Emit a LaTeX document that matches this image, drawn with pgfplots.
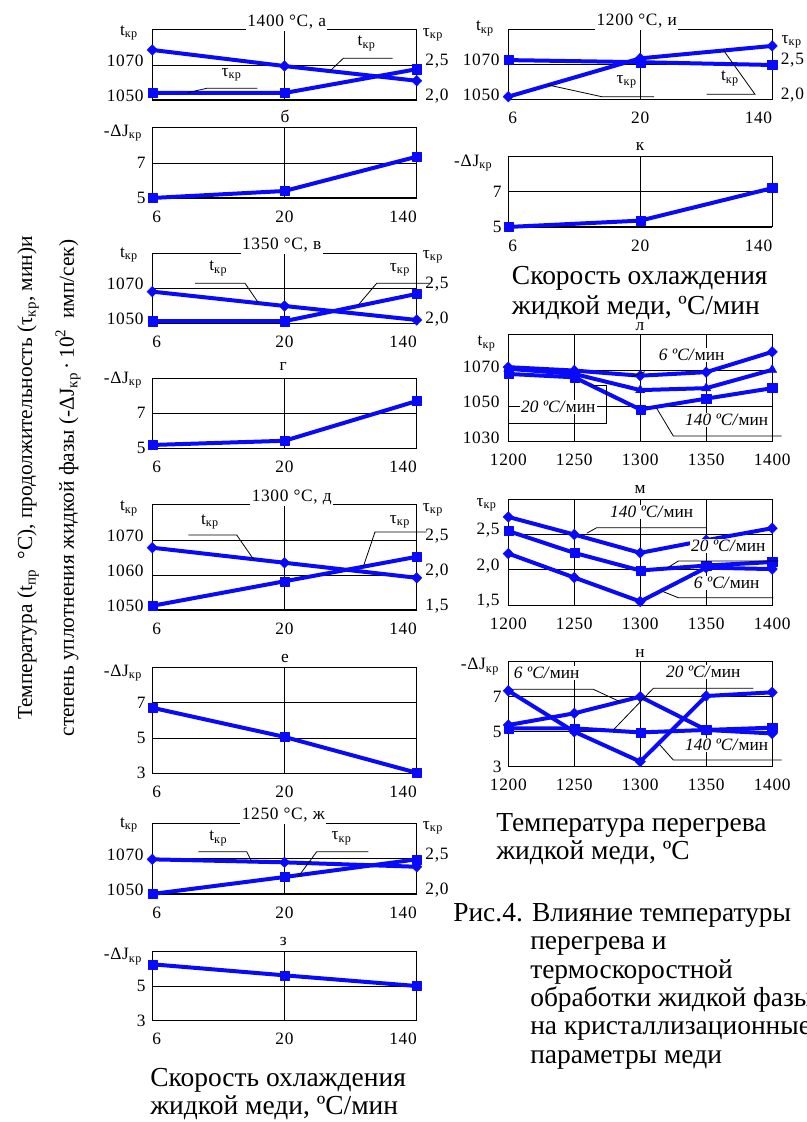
\documentclass[border=0pt]{standalone}
\usepackage{fontspec}
\setmainfont{Liberation Serif}
\newfontfamily\tf[LetterSpace=4]{Liberation Serif}
\usepackage{pgfplots}
\pgfplotsset{compat=1.18}
\definecolor{myblue}{RGB}{10,10,250}
\newcommand\kr{\textsubscript{кр}}
\newcommand\T{\fontsize{13}{14}\tf}
\newcommand\B{\fontsize{20.6}{21}\selectfont}
\newcommand\ital{\fontsize{13}{14}\selectfont}

\pgfplotsset{
 panel/.style={scale only axis, anchor=north west, clip=false,
   axis line style={black,line width=0.75pt},
   major tick length=0pt, tick style={draw=none},
   grid style={black,line width=0.6pt},
   xmajorgrids, ymajorgrids,
   tick label style={font=\T},
   xticklabel style={yshift=-6pt},
 },
 lt/.style={yticklabel style={xshift=-3pt,yshift=3pt}},
 lj/.style={yticklabel style={xshift=-1.5pt}},
 colL/.style={panel, width=198.3pt},
 colR/.style={panel, width=197.9pt},
 cat/.style={xmin=0,xmax=2,xtick={0,1,2},xticklabels={\rlap{6},20,\llap{140}}},
 catn/.style={xmin=0,xmax=2,xtick={0,1,2},xticklabels={}},
 tem/.style={xmin=1200,xmax=1400,xtick={1200,1250,1300,1350,1400},xticklabels={1200,1250,1300,1350,1400}},
 tauax/.style={axis line style={draw=none}, grid=none, yticklabel pos=right, yticklabel style={xshift=3pt,yshift=3pt}},
 bline/.style={myblue, line width=3pt, line join=round},
 dmark/.style={bline, mark=diamond*, mark size=4pt, mark options={solid,line width=0.3pt,xscale=1.3}},
 smark/.style={bline, mark=square*, mark size=3.4pt, mark options={solid,line width=0.3pt}},
 tmark/.style={bline, mark=triangle*, mark size=4pt, mark options={solid,line width=0.3pt}},
}

\begin{document}
\begin{tikzpicture}[x=0.75pt,y=0.75pt]
\path[use as bounding box] (0,0) rectangle (807,1122);

% ---------- a: 1400
\begin{axis}[colL,catn,lt,at={({152.3*0.75pt},{1092*0.75pt})},height=52.5pt,ymin=1050,ymax=1090,ytick={1050,1070},yticklabels={1050,1070}]
\addplot[dmark] coordinates {(0,1078.6)(1,1069.4)(2,1061.0)};
\end{axis}
\begin{axis}[colL,catn,tauax,at={({152.3*0.75pt},{1092*0.75pt})},height=52.5pt,ymin=2,ymax=3,ytick={2,2.5},yticklabels={{2,0},{2,5}}]
\addplot[smark] coordinates {(0,2.10)(1,2.10)(2,2.44)};
\end{axis}
% ---------- b
\begin{axis}[colL,cat,lj,at={({152.3*0.75pt},{994*0.75pt})},height=52.5pt,ymin=5,ymax=9,ytick={5,7},yticklabels={5,7}]
\addplot[smark] coordinates {(0,5.0)(1,5.4)(2,7.36)};
\end{axis}
% ---------- v: 1350
\begin{axis}[colL,cat,lt,at={({152.3*0.75pt},{868.7*0.75pt})},height=52.5pt,ymin=1050,ymax=1090,ytick={1050,1070},yticklabels={1050,1070}]
\addplot[dmark] coordinates {(0,1068.1)(1,1059.9)(2,1051.9)};
\end{axis}
\begin{axis}[colL,catn,tauax,at={({152.3*0.75pt},{868.7*0.75pt})},height=52.5pt,ymin=2,ymax=3,ytick={2,2.5},yticklabels={{2,0},{2,5}}]
\addplot[smark] coordinates {(0,2.03)(1,2.03)(2,2.42)};
\end{axis}
% ---------- g
\begin{axis}[colL,cat,lj,at={({152.3*0.75pt},{743.7*0.75pt})},height=52.5pt,ymin=5,ymax=9,ytick={5,7},yticklabels={5,7}]
\addplot[smark] coordinates {(0,5.19)(1,5.43)(2,7.70)};
\end{axis}
% ---------- d: 1300
\begin{axis}[colL,cat,lt,at={({152.3*0.75pt},{617*0.75pt})},height=78.75pt,ymin=1050,ymax=1080,ytick={1050,1060,1070},yticklabels={1050,1060,1070}]
\addplot[dmark] coordinates {(0,1067.8)(1,1063.5)(2,1059.2)};
\end{axis}
\begin{axis}[colL,catn,tauax,at={({152.3*0.75pt},{617*0.75pt})},height=78.75pt,ymin=1.5,ymax=3,ytick={1.5,2,2.5},yticklabels={{1,5},{2,0},{2,5}}]
\addplot[smark] coordinates {(0,1.56)(1,1.91)(2,2.26)};
\end{axis}
% ---------- e
\begin{axis}[colL,cat,lj,at={({152.3*0.75pt},{454.7*0.75pt})},height=79.5pt,ymin=3,ymax=9,ytick={3,5,7},yticklabels={3,5,7}]
\addplot[smark] coordinates {(0,6.71)(1,5.06)(2,3.03)};
\end{axis}
% ---------- zh: 1250
\begin{axis}[colL,cat,lt,at={({152.3*0.75pt},{298.7*0.75pt})},height=53pt,ymin=1050,ymax=1090,ytick={1050,1070},yticklabels={1050,1070}]
\addplot[dmark] coordinates {(0,1069.6)(1,1067.9)(2,1065.4)};
\end{axis}
\begin{axis}[colL,catn,tauax,at={({152.3*0.75pt},{298.7*0.75pt})},height=53pt,ymin=2,ymax=3,ytick={2,2.5},yticklabels={{2,0},{2,5}}]
\addplot[smark] coordinates {(0,2.0)(1,2.24)(2,2.49)};
\end{axis}
% ---------- z
\begin{axis}[colL,cat,lj,at={({152.3*0.75pt},{170.3*0.75pt})},height=51.75pt,ymin=3,ymax=7,ytick={3,5},yticklabels={3,5}]
\addplot[smark] coordinates {(0,6.27)(1,5.63)(2,5.01)};
\end{axis}

% ---------- i: 1200
\begin{axis}[colR,cat,lt,at={({508.3*0.75pt},{1092.7*0.75pt})},height=52.5pt,ymin=1050,ymax=1090,ytick={1050,1070},yticklabels={1050,1070}]
\addplot[dmark] coordinates {(0,1051.5)(1,1073.4)(2,1080.5)};
\end{axis}
\begin{axis}[colR,catn,tauax,at={({508.3*0.75pt},{1092.7*0.75pt})},height=52.5pt,ymin=2,ymax=3,ytick={2,2.5},yticklabels={{2,0},{2,5}}]
\addplot[smark] coordinates {(0,2.56)(1,2.53)(2,2.49)};
\end{axis}
% ---------- k
\begin{axis}[colR,cat,lj,at={({508.3*0.75pt},{965.3*0.75pt})},height=52.7pt,ymin=5,ymax=9,ytick={5,7},yticklabels={5,7}]
\addplot[smark] coordinates {(0,5.0)(1,5.36)(2,7.21)};
\end{axis}
% ---------- l
\begin{axis}[colR,tem,lt,at={({508.3*0.75pt},{787*0.75pt})},height=80pt,ymin=1030,ymax=1090,ytick={1030,1050,1070},yticklabels={1030,1050,1070}]
\addplot[dmark] coordinates {(1200,1071.9)(1250,1070)(1300,1067.1)(1350,1069.1)(1400,1080.5)};
\addplot[tmark] coordinates {(1200,1071)(1250,1068.1)(1300,1059)(1350,1060.1)(1400,1070.4)};
\addplot[smark] coordinates {(1200,1068.1)(1250,1066.2)(1300,1048.1)(1350,1054.2)(1400,1060.1)};
\end{axis}
% ---------- m
\begin{axis}[colR,tem,lt,at={({508.3*0.75pt},{622.7*0.75pt})},height=79.3pt,ymin=1.5,ymax=3,ytick={1.5,2,2.5},yticklabels={{1,5},{2,0},{2,5}}]
\addplot[dmark] coordinates {(1200,2.75)(1250,2.5)(1300,2.24)(1350,2.42)(1400,2.59)};
\addplot[smark] coordinates {(1200,2.55)(1250,2.24)(1300,1.99)(1350,2.06)(1400,2.11)};
\addplot[dmark] coordinates {(1200,2.23)(1250,1.89)(1300,1.55)(1350,2.03)(1400,2.01)};
\end{axis}
% ---------- n
\begin{axis}[colR,tem,lj,at={({508.3*0.75pt},{460.3*0.75pt})},height=78.75pt,ymin=3,ymax=9,ytick={3,5,7},yticklabels={3,5,7}]
\addplot[dmark] coordinates {(1200,7.34)(1250,5.0)(1300,3.29)(1350,7.04)(1400,7.25)};
\addplot[dmark] coordinates {(1200,5.38)(1250,6.05)(1300,7.0)(1350,5.1)(1400,4.9)};
\addplot[smark] coordinates {(1200,5.19)(1250,5.19)(1300,4.96)(1350,5.1)(1400,5.23)};
\end{axis}

% ---------- labels and annotations
\begin{scope}[every node/.style={font=\T, inner sep=1pt}]
\node at (129,1089) {t\kr};
\node at (433,1087) {τ\kr};
\node at (123,989) {-ΔJ\kr};
\node at (129,867) {t\kr};
\node at (433,865.3) {τ\kr};
\node at (123,742) {-ΔJ\kr};
\node at (129,613.7) {t\kr};
\node at (433,612) {τ\kr};
\node at (123,448.7) {-ΔJ\kr};
\node at (129,297) {t\kr};
\node at (433,294) {τ\kr};
\node at (123,165.3) {-ΔJ\kr};
\node at (485,1093.7) {t\kr};
\node at (791.7,1080.3) {τ\kr};
\node at (473.3,958.7) {-ΔJ\kr};
\node at (486.7,778.7) {t\kr};
\node at (486.7,617) {τ\kr};
\node at (480,455.3) {-ΔJ\kr};
% titles
\node[fill=white,anchor=south,text depth=0.25em] at (286.7,1091) {1400 °C, а};
\node[fill=white,anchor=south,text depth=0.25em] at (281.7,867.7) {1350 °C, в};
\node[fill=white,anchor=south,text depth=0.25em] at (291.7,616) {1300 °C, д};
\node[fill=white,anchor=south,text depth=0.25em] at (283.3,297.7) {1250 °C, ж};
\node[fill=white,anchor=south,text depth=0.25em] at (636.7,1091.7) {1200 °C, и};
\node at (285,1005.3) {б};
\node at (283.3,755.3) {г};
\node at (285,463.7) {е};
\node at (283.3,180.3) {з};
\node at (640,975.3) {к};
\node at (640,795.3) {л};
\node at (640,632) {м};
\node[fill=white] at (640,468.7) {н};
\end{scope}

\begin{scope}[line width=0.6pt, every node/.style={font=\T, inner sep=1pt}]
% a
\draw (187.7,1029.3)--(206.7,1033.7)--(257.3,1033.7);
\node at (231.7,1047) {τ\kr};
\draw (330,1051)--(343.3,1063.7)--(392.7,1063.7);
\node at (366.7,1078.7) {t\kr};
% v
\draw (195,838.7)--(245,838.7)--(258.3,819.3);
\node at (218.3,853.7) {t\kr};
\draw (358.3,817)--(376.7,838.7)--(430,838.7);
\node at (400,852) {τ\kr};
% d
\draw (188.3,587)--(236.7,587)--(254,562);
\node at (210,600.3) {t\kr};
\draw (363.3,555.3)--(375,590)--(426.7,590);
\node at (400,600.3) {τ\kr};
% zh
\draw (198.3,270.3)--(246.7,270.3)--(251.7,260.3);
\node at (218.3,283.7) {t\kr};
\draw (298.3,245.3)--(316.7,270.3)--(368.3,270.3);
\node at (341.7,283.7) {τ\kr};
% i
\draw (548.3,1037)--(601.7,1025.3)--(654,1025.3);
\node at (626.7,1040.3) {τ\kr};
\draw (723.3,1072)--(755,1027.7)--(706.7,1027.7);
\node at (730,1043.7) {t\kr};
\end{scope}

\begin{scope}[line width=0.6pt, every node/.style={font=\ital, inner sep=1pt, fill=white}]
% l
\draw (631.7,745.3)--(645,750.3);
\node at (691.7,767) {\textit{6 ºC/}мин};
\draw (508.3,698.7)--(606.7,698.7)--(606.7,737)--(593,737);
\node at (558.3,714.7) {\textit{20 ºC/}мин};
\draw (656.7,713.7)--(673.3,686)--(781.7,686);
\node at (726.7,702) {\textit{140 ºC/}мин};
% m
\draw (586.7,588.7)--(596.7,594.3)--(706,594.3);
\node at (651.7,610.3) {\textit{140 ºC/}мин};
\draw (666.7,553.7)--(678.3,561)--(778.3,561);
\node at (728.3,576) {\textit{20 ºC/}мин};
\draw (663.3,530.3)--(678.3,524.3)--(773.3,524.3);
\node at (726.7,538.7) {\textit{6 ºC/}мин};
% n
\draw (511.7,432.7)--(593.3,432.7)--(620,420.3);
\node at (546.7,448.7) {\textit{6 ºC/}мин};
\draw (613.3,392)--(653.3,433.7)--(753.3,433.7);
\node at (703.3,450.3) {\textit{20 ºC/}мин};
\draw (660,377)--(673.3,362)--(781.7,362);
\node at (726.7,377) {\textit{140 ºC/}мин};
\end{scope}

% captions
\begin{scope}[every node/.style={anchor=west, font=\B, inner sep=0pt, text height=14pt, text depth=4pt}]
\node at (150,42) {Скорость охлаждения};
\node at (150,14) {жидкой меди, ºС/мин};
\node at (511.7,844) {Скорость охлаждения};
\node at (511.7,814) {жидкой меди, ºС/мин};
\node at (496,297) {Температура перегрева};
\node at (496,269) {жидкой меди, ºС};
\node at (453,207) {Рис.4. Влияние температуры};
\node at (530,178.7) {перегрева и};
\node at (530,150.3) {термоскоростной};
\node at (530,122) {обработки жидкой фазы};
\node at (530,93.7) {на кристаллизационные};
\node at (530,65.3) {параметры меди};
\end{scope}

\node[rotate=90, font=\fontsize{16}{17}\selectfont] at (28,644) {Температура (t\textsubscript{пр}\ \ °С), продолжительность (τ\textsubscript{кр}, мин)и};
\node[rotate=90, font=\fontsize{16}{17}\selectfont] at (68,634) {степень уплотнения жидкой фазы (-ΔJ\textsubscript{кр}\,·\,10\textsuperscript{2}\ \ имп/сек)};
\end{tikzpicture}
\end{document}
